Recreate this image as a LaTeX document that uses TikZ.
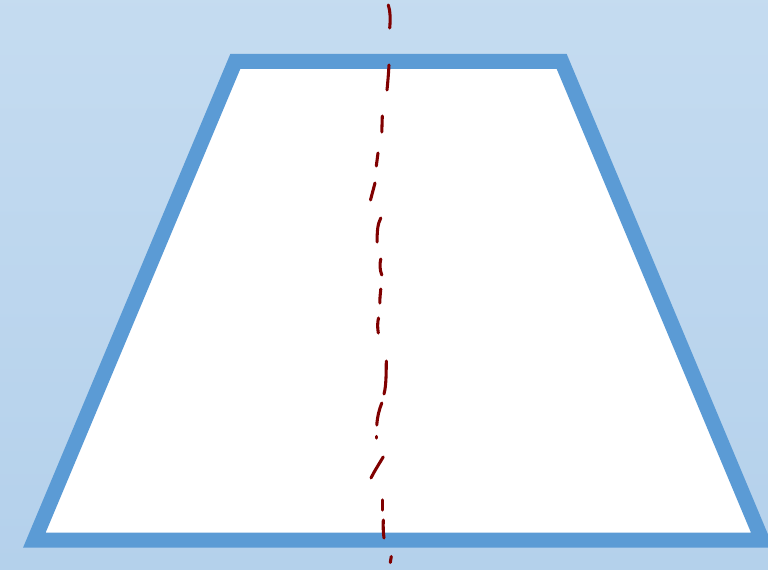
\documentclass[tikz,border=0pt]{standalone}
\usetikzlibrary{calc}
\definecolor{bgtop}{RGB}{205,225,243}
\definecolor{bgmid}{RGB}{179,208,235}
\definecolor{bgbot}{RGB}{192,217,240}
\definecolor{bordblue}{RGB}{91,155,213}
\definecolor{dashred}{RGB}{128,0,0}
\pgfdeclareverticalshading{bgshade}{100bp}{color(0bp)=(bgbot); color(22bp)=(bgmid); color(100bp)=(bgtop)}
\tikzset{
  border/.style={draw=bordblue, fill=white, line width=11.25pt, line join=miter},
  stroke/.style={draw=dashred, line width=2.3pt, line cap=round}
}
\begin{document}
\begin{tikzpicture}[x=0.75pt,y=-0.75pt]
\useasboundingbox (0,0) rectangle (768,570);
\shade[shading=bgshade] (0,0) rectangle (768,570);
\begin{scope}
\clip (0,0) rectangle (768,570);
\draw[border] (235.3,61.5) -- (561.7,61.5) -- (762.2,540) -- (34.4,540) -- cycle;
\end{scope}
% hand-drawn dashed axis
\draw[stroke] (388.3,5) .. controls (390.6,12) and (390.4,20) .. (389.7,28);
\draw[stroke] (389,65) .. controls (388.5,74) and (387.8,82) .. (387,90);
\draw[stroke] (382.3,116) -- (381.8,132);
\draw[stroke] (378,153) -- (376.3,166);
\draw[stroke] (375,183) -- (370.5,200);
\draw[stroke] (380.8,218) .. controls (377.5,224) and (377,232) .. (377.2,242);
\draw[stroke] (380.8,259) .. controls (379.5,264) and (379.8,270) .. (381.8,275);
\draw[stroke] (380.8,289) .. controls (380.3,294) and (379.8,298) .. (379.8,303);
\draw[stroke] (378.5,318) .. controls (377.3,323) and (377.5,328) .. (378.3,333);
\draw[stroke] (386.3,361) .. controls (386.2,373) and (386.2,386) .. (384,394);
\draw[stroke] (381.8,403) .. controls (379,410) and (377.3,417) .. (376.8,425);
\draw[stroke] (376.8,436.5) -- (376.8,438);
\draw[stroke] (383.2,457) .. controls (379,464) and (374.5,471) .. (371,478);
\draw[stroke] (382.3,500) -- (382.3,510);
\draw[stroke] (383.3,520) .. controls (383,527) and (383.3,533) .. (384,538);
\draw[stroke] (391.3,556.5) -- (390.3,562.5);
\end{tikzpicture}
\end{document}
